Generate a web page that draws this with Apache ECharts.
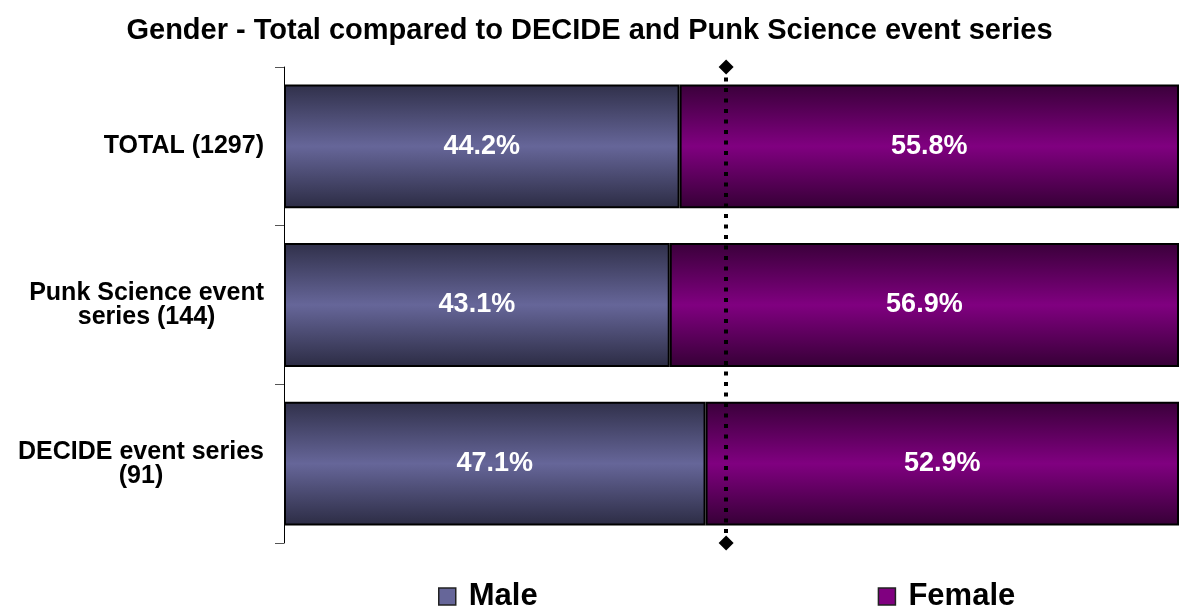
<!DOCTYPE html>
<html>
<head>
<meta charset="utf-8">
<script src="https://cdn.jsdelivr.net/npm/echarts@6/dist/echarts.min.js"></script>
<style>
  html, body { margin: 0; padding: 0; background: #fff; }
  #chart { width: 1179px; height: 611px; }
</style>
</head>
<body>
<div id="chart"></div>
<script>
// Event groups, top to bottom
const categories = ['TOTAL (1297)', 'Punk Science event\nseries (144)', 'DECIDE event series\n(91)'];
// Share of attendees by gender, percent
const maleValues = [44.2, 43.1, 47.1];
const femaleValues = [55.8, 56.9, 52.9];
// Reference share marked by the dotted line
const referenceValue = 49.4;

const FONT = '"Liberation Sans", Arial, Helvetica, sans-serif';

function band(top, mid, bottom) {
  return new echarts.graphic.LinearGradient(0, 0, 0, 1, [
    { offset: 0, color: top },
    { offset: 0.5, color: mid },
    { offset: 1, color: bottom }
  ]);
}

const chart = echarts.init(document.getElementById('chart'), null, { renderer: 'canvas' });

const valueLabel = {
  show: true,
  position: 'inside',
  color: '#ffffff',
  fontFamily: FONT,
  fontWeight: 'bold',
  fontSize: 27,
  formatter: p => p.value.toFixed(1) + '%'
};

chart.setOption({
  animation: false,
  title: {
    text: 'Gender - Total compared to DECIDE and Punk Science event series',
    left: 'center',
    top: 11,
    textStyle: { fontFamily: FONT, fontWeight: 'bold', fontSize: 29, color: '#000' }
  },
  legend: {
    top: 581,
    left: 438,
    padding: 0,
    itemGap: 340,
    itemWidth: 17,
    itemHeight: 17,
    icon: 'rect',
    textStyle: { fontFamily: FONT, fontWeight: 'bold', fontSize: 31, color: '#000', padding: [0, 0, 0, 8] },
    data: [
      { name: 'Male', itemStyle: { color: '#666699', borderColor: '#222', borderWidth: 1.5 } },
      { name: 'Female', itemStyle: { color: '#800080', borderColor: '#222', borderWidth: 1.5 } }
    ]
  },
  grid: { left: 284, top: 67, width: 897, height: 476, containLabel: false },
  xAxis: {
    type: 'value',
    min: 0,
    max: 100,
    show: false
  },
  yAxis: {
    type: 'category',
    inverse: true,
    data: categories,
    axisLine: { show: true, lineStyle: { color: '#000', width: 1 } },
    axisTick: { show: true, length: 9, inside: false, lineStyle: { color: '#555', width: 1 } },
    axisLabel: {
      margin: 20,
      align: 'right',
      formatter: v => v.split('\n').map(line => '{c|' + line + '}').join('\n'),
      rich: {
        c: {
          align: 'center',
          color: '#000',
          fontFamily: FONT,
          fontWeight: 'bold',
          fontSize: 25,
          lineHeight: 24
        }
      }
    },
    splitLine: { show: false }
  },
  series: [
    {
      name: 'Male',
      type: 'bar',
      stack: 'gender',
      barWidth: '78%',
      data: maleValues,
      itemStyle: {
        color: band('#30304a', '#666699', '#2c2c44'),
        borderColor: '#000',
        borderWidth: 2
      },
      label: valueLabel
    },
    {
      name: 'Female',
      type: 'bar',
      stack: 'gender',
      barWidth: '78%',
      data: femaleValues,
      itemStyle: {
        color: band('#3a003a', '#800080', '#360036'),
        borderColor: '#000',
        borderWidth: 2
      },
      label: valueLabel,
      markLine: {
        silent: true,
        symbol: ['diamond', 'diamond'],
        symbolSize: [15, 15],
        label: { show: false },
        lineStyle: { color: '#000', type: [4, 6.5], width: 4, opacity: 1 },
        data: [{ xAxis: referenceValue }]
      }
    }
  ]
});
</script>
</body>
</html>
